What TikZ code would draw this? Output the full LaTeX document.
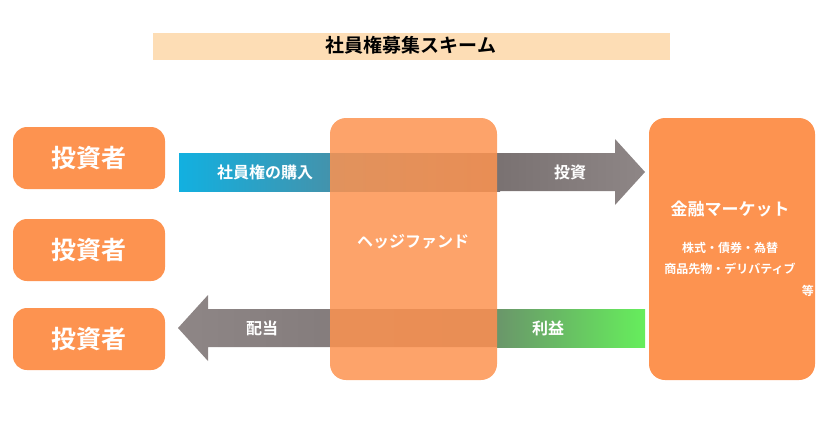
\documentclass[tikz,border=0pt]{standalone}
\usepackage{fontspec}
\setmainfont{Noto Sans CJK JP Bold}
\usetikzlibrary{positioning}
\definecolor{org}{HTML}{FD9350}
\definecolor{ttl}{HTML}{FDDDB5}
\definecolor{cy}{HTML}{12B0E0}
\definecolor{gr}{HTML}{7A7272}
\definecolor{grl}{HTML}{8E8686}
\definecolor{grn}{HTML}{66EE5C}
\definecolor{grd}{HTML}{6A966A}
\tikzset{
 inv/.style={fill=org,rounded corners=14pt,minimum width=152pt,minimum height=62pt,text=white,font=\fontsize{25}{25}\selectfont,inner sep=0},
 lbl/.style={text=white,font=\fontsize{16}{16}\selectfont},
 sm/.style={text=white,font=\fontsize{12}{14}\selectfont,inner sep=0}
}
\begin{document}
\begin{tikzpicture}[x=1pt,y=-1pt]
\useasboundingbox (0,0) rectangle (824,440);
\fill[ttl] (153,33) rectangle (670,60);
\node[font=\fontsize{19}{19}\selectfont] (title) at (411,45) {社員権募集スキーム};
\node[inv] (i1) at (89,158) {投資者};
\node[inv] (i2) at (89,250) {投資者};
\node[inv] (i3) at (89,339) {投資者};
% top arrow
\shade[left color=cy,right color=gr] (179,153) rectangle (500,191);
\shade[left color=gr,right color=grl] (500,153) -- (615,153) -- (615,139) -- (645,172) -- (615,205) -- (615,191) -- (500,191) -- cycle;
% bottom arrow
\shade[left color=grl,right color=gr] (497,309) -- (208,309) -- (208,295) -- (178,328) -- (208,361) -- (208,347) -- (497,347) -- cycle;
\shade[left color=grd,right color=grn] (497,309) rectangle (645,347);
\node[lbl] (l1) at (265,172) {社員権の購入};
\node[lbl] (l2) at (570,172) {投資};
\node[lbl] (l3) at (262,328) {配当};
\node[lbl] (l4) at (548,328) {利益};
\fill[org,opacity=0.85,rounded corners=16pt] (330,118) rectangle (497,380);
\node[lbl] (hf) at (413,242) {ヘッジファンド};
\fill[org,rounded corners=16pt] (649,118) rectangle (815,380);
\node[lbl,font=\fontsize{17}{17}\selectfont] (mk) at (730,209) {金融マーケット};
\node[sm] (m1) at (730,248) {株式・債券・為替};
\node[sm] (m2) at (730,269) {商品先物・デリバティブ};
\node[sm,anchor=east] (m3) at (814,291) {等};
\end{tikzpicture}
\end{document}
